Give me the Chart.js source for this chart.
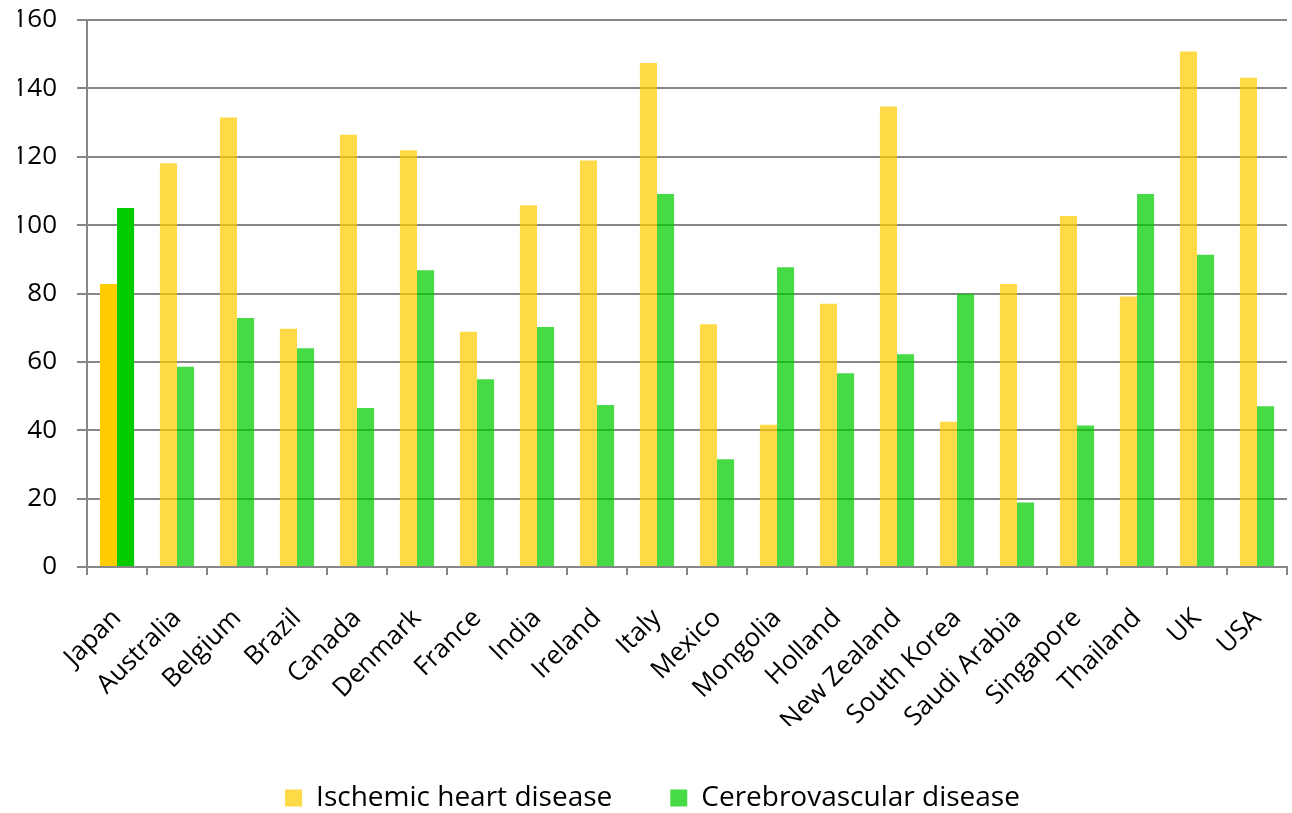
<!DOCTYPE html>
<html>
<head>
<meta charset="utf-8">
<script src="https://cdn.jsdelivr.net/npm/chart.js@4.4.1/dist/chart.umd.min.js"></script>
<style>
  html, body { margin: 0; padding: 0; background: #ffffff; }
  #wrap { width: 1292px; height: 813px; position: relative; }
</style>
</head>
<body>
<div id="wrap"><canvas id="c" width="1292" height="813"></canvas></div>
<script>
// Countries on the category axis
const countries = ["Japan", "Australia", "Belgium", "Brazil", "Canada", "Denmark", "France", "India",
  "Ireland", "Italy", "Mexico", "Mongolia", "Holland", "New Zealand", "South Korea", "Saudi Arabia",
  "Singapore", "Thailand", "UK", "USA"];

// Death rates per country
const ischemicHeart = [82.8, 118.1, 131.5, 69.7, 126.4, 121.9, 68.8, 105.8, 118.9, 147.4,
  71.0, 41.6, 77.0, 134.7, 42.5, 82.8, 102.7, 79.1, 150.8, 143.1];
const cerebrovascular = [105.0, 58.6, 72.8, 64.0, 46.5, 86.8, 54.9, 70.2, 47.4, 109.1,
  31.5, 87.7, 56.7, 62.2, 79.9, 18.9, 41.4, 109.1, 91.3, 47.0];

// Value axis ticks
const yTicks = [0, 20, 40, 60, 80, 100, 120, 140, 160];

const seriesNames = ["Ischemic heart disease", "Cerebrovascular disease"];

// Japan is highlighted with solid colours, the rest are lighter
const yellowSoft = "rgba(255,204,0,0.72)";
const greenSoft = "rgba(0,204,0,0.72)";
const yellowSolid = "#FFCC00";
const greenSolid = "#00CC00";
const yellowColors = countries.map((c, i) => i === 0 ? yellowSolid : yellowSoft);
const greenColors = countries.map((c, i) => i === 0 ? greenSolid : greenSoft);

const FONT = "'Open Sans', 'Liberation Sans', sans-serif";
const gridGray = "#878787";

new Chart(document.getElementById("c"), {
  type: "bar",
  data: {
    labels: countries,
    datasets: [
      { label: seriesNames[0], data: ischemicHeart, backgroundColor: yellowColors,
        borderWidth: 0, categoryPercentage: 0.57, barPercentage: 1.0 },
      { label: seriesNames[1], data: cerebrovascular, backgroundColor: greenColors,
        borderWidth: 0, categoryPercentage: 0.57, barPercentage: 1.0 }
    ]
  },
  options: {
    responsive: false,
    animation: false,
    devicePixelRatio: 1,
    layout: { padding: { top: 20, right: 5, left: 18, bottom: 0 } },
    plugins: {
      tooltip: { enabled: false },
      title: { display: false },
      legend: {
        position: "bottom",
        maxHeight: 87,
        labels: {
          color: "#000000",
          font: { family: FONT, size: 28 },
          boxWidth: 17,
          boxHeight: 17,
          padding: 58,
          generateLabels: (chart) => seriesNames.map((name, i) => ({
            text: name,
            fillStyle: i === 0 ? yellowSoft : greenSoft,
            strokeStyle: "rgba(0,0,0,0)",
            lineWidth: 0,
            datasetIndex: i,
            hidden: false
          }))
        }
      }
    },
    scales: {
      x: {
        grid: {
          offset: true,
          drawOnChartArea: false,
          drawTicks: true,
          tickLength: 8,
          color: gridGray,
          lineWidth: 2
        },
        border: { display: true, color: gridGray, width: 2 },
        ticks: {
          color: "#000000",
          font: { family: FONT, size: 26 },
          maxRotation: 45,
          minRotation: 45,
          padding: 28,
          autoSkip: false
        },
        afterFit: (scale) => {
          scale.height = 159;
          scale.paddingLeft = 0;
          scale.paddingRight = 0;
        }
      },
      y: {
        min: 0,
        max: 160,
        afterBuildTicks: (scale) => { scale.ticks = yTicks.map(v => ({ value: v })); },
        grid: {
          color: gridGray,
          lineWidth: 2,
          drawTicks: true,
          tickLength: 10
        },
        border: { display: true, color: gridGray, width: 2 },
        ticks: {
          color: "#000000",
          font: { family: FONT, size: 26 },
          padding: 20
        },
        afterFit: (scale) => {
          scale.width = 69;
          scale.paddingTop = 0;
          scale.paddingBottom = 0;
        }
      }
    }
  }
});
</script>
</body>
</html>
